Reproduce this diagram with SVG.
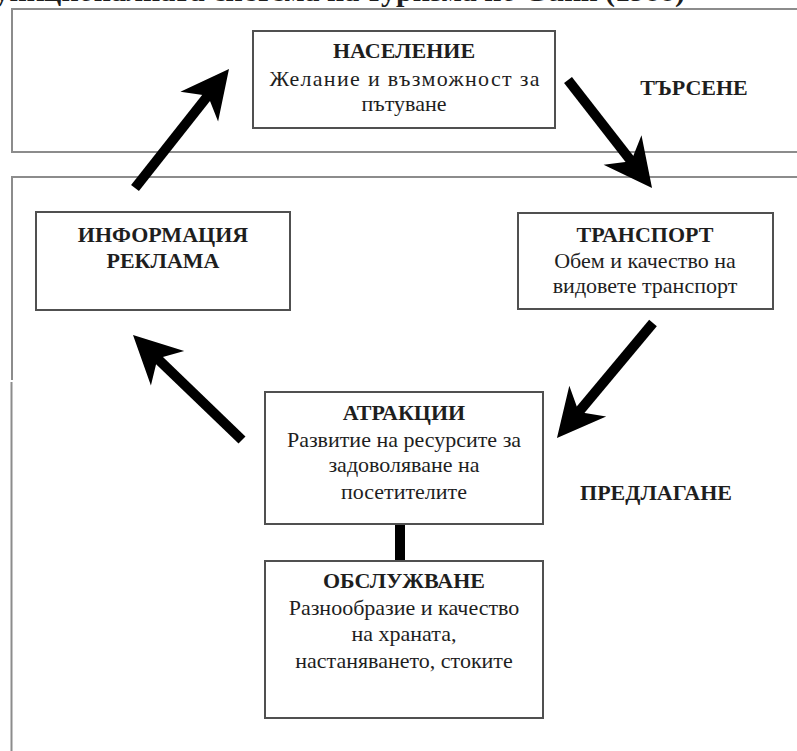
<svg xmlns="http://www.w3.org/2000/svg" width="797" height="751" viewBox="0 0 797 751">
<style>
.panel{fill:none;stroke:#8c8c8c;stroke-width:2}
.box{fill:#fff;stroke:#505050;stroke-width:2}
text{font-family:"Liberation Serif",Tinos,"Times New Roman","DejaVu Serif",serif;fill:#1e1e1e;text-anchor:middle;font-size:22px}
.h{font-weight:bold}
.title{font-weight:bold;font-size:30px;text-anchor:end}
.arrow{stroke:#000;stroke-width:10;fill:none;stroke-linecap:butt;marker-end:url(#head)}
</style>
<defs>
<marker id="head" markerUnits="userSpaceOnUse" viewBox="-50 -26 52 52" markerWidth="52" markerHeight="52" refX="-30" refY="0" orient="auto">
<path d="M0,0 L-48,-24 L-34,0 L-48,24 Z" fill="#000"/>
</marker>
</defs>
<rect width="797" height="751" fill="#fff"/>
<text class="title" x="685" y="1">Модел на функционалната система на туризма по Gunn (1988)</text>
<g id="panels">
<path class="panel" d="M800,9 H12 V152 H800"/>
<path class="panel" d="M800,177 H12 V380 M11.5,382 V752"/>
<text class="h" x="694" y="95">ТЪРСЕНЕ</text>
<text class="h" x="656" y="500">ПРЕДЛАГАНЕ</text>
</g>
<g id="connectors">
<line class="arrow" x1="135" y1="188" x2="210.4" y2="92.5"/>
<line class="arrow" x1="568" y1="80" x2="633.6" y2="164.3"/>
<line class="arrow" x1="653" y1="323" x2="576.2" y2="415"/>
<line class="arrow" x1="242" y1="440" x2="154.6" y2="355.8"/>
<rect x="395" y="523" width="10" height="39" fill="#000"/>
</g>
<g id="naselenie">
<rect class="box" x="253" y="31" width="302" height="97"/>
<text class="h" x="404" y="58">НАСЕЛЕНИЕ</text>
<text x="404.5" y="86" textLength="270" lengthAdjust="spacing">Желание и възможност за</text>
<text x="404" y="111">пътуване</text>
</g>
<g id="informacia">
<rect class="box" x="36" y="212" width="254" height="98"/>
<text class="h" x="163" y="242">ИНФОРМАЦИЯ</text>
<text class="h" x="163" y="268">РЕКЛАМА</text>
</g>
<g id="transport">
<rect class="box" x="518" y="213" width="255" height="96"/>
<text class="h" x="645" y="242">ТРАНСПОРТ</text>
<text x="645" y="268">Обем и качество на</text>
<text x="645" y="293">видовете транспорт</text>
</g>
<g id="atrakcii">
<rect class="box" x="265" y="392" width="278" height="132"/>
<text class="h" x="404" y="420">АТРАКЦИИ</text>
<text x="404" y="447">Развитие на ресурсите за</text>
<text x="404" y="472">задоволяване на</text>
<text x="404" y="499">посетителите</text>
</g>
<g id="obsluzhvane">
<rect class="box" x="265" y="561" width="278" height="157"/>
<text class="h" x="404" y="588">ОБСЛУЖВАНЕ</text>
<text x="404" y="615">Разнообразие и качество</text>
<text x="404" y="641">на храната,</text>
<text x="404" y="668">настаняването, стоките</text>
</g>
</svg>
